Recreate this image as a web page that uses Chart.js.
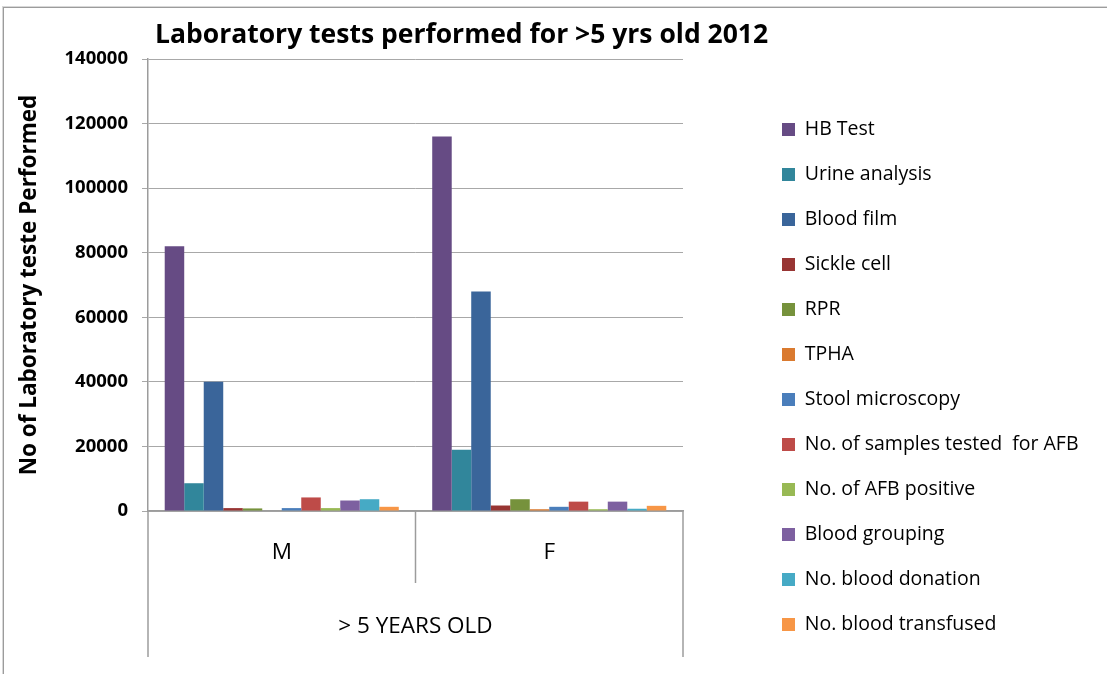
<!DOCTYPE html>
<html>
<head>
<meta charset="utf-8">
<script src="https://cdn.jsdelivr.net/npm/chart.js@4"></script>
<style>
html,body{margin:0;padding:0;background:#fff;overflow:hidden;}
#wrap{position:relative;width:1107px;height:674px;background:#fff;}
#frame{position:absolute;left:3px;top:7px;width:1110px;height:680px;border-left:1px solid #9c9c9c;border-top:1px solid #9c9c9c;box-shadow:-1px -1px 0 #d8d8d8;pointer-events:none;}
canvas{position:absolute;left:0;top:0;}
</style>
</head>
<body>
<div id="wrap"><canvas id="c" width="1107" height="674"></canvas><div id="frame"></div></div>
<script>
// ---- data ----
const categories = ['M', 'F'];
const groupLabel = '> 5 YEARS OLD';
const chartTitle = 'Laboratory tests performed for >5 yrs old 2012';
const yAxisTitle = 'No of Laboratory teste Performed';
const seriesNames = [
  'HB Test', 'Urine analysis', 'Blood film', 'Sickle cell', 'RPR', 'TPHA',
  'Stool microscopy', 'No. of samples tested  for AFB', 'No. of AFB positive',
  'Blood grouping', 'No. blood donation', 'No. blood transfused'
];
const maleValues   = [82000, 8600, 40000, 900, 800, 150, 900, 4200, 900, 3250, 3650, 1300];
const femaleValues = [116000, 19000, 68000, 1700, 3650, 550, 1300, 2900, 550, 2900, 700, 1600];
const yMin = 0, yMax = 140000, yStep = 20000;

// ---- styles ----
const seriesColors = [
  '#664B84', '#31869B', '#3A659A', '#983533', '#76923C', '#DA7A2F',
  '#4A7EBB', '#BE4B48', '#98B954', '#7D60A0', '#46AAC5', '#F79646'
];
const FONT = "'Open Sans', sans-serif";
const legendFontSize = 19.5, legendBox = 13, legendPad = 25.5;
const legendLeft = 756.5, plotRight = 683, plotTop = 59;

// measure widest legend label to place the legend
const mctx = document.createElement('canvas').getContext('2d');
mctx.font = legendFontSize + 'px ' + FONT;
let maxW = 0;
seriesNames.forEach(n => { maxW = Math.max(maxW, mctx.measureText(n).width); });
const legendNatural = 10 + legendPad + legendBox + legendFontSize / 2 + maxW;
const legendMax = 1107 - legendLeft;
const padRight = Math.max(0, legendMax - legendNatural);

// chart title drawn above the plot, starting just right of the value axis
const titlePlugin = {
  id: 'chartTitleText',
  afterDraw(chart) {
    const ctx = chart.ctx;
    ctx.save();
    ctx.font = 'bold 26.5px ' + FONT;
    ctx.fillStyle = '#000';
    ctx.textAlign = 'left';
    ctx.textBaseline = 'middle';
    ctx.fillText(chartTitle, chart.chartArea.left + 7, 35);
    ctx.restore();
  }
};

const dividerPlugin = {
  id: 'dividers',
  afterDraw(chart) {
    const x = chart.scales.x, ctx = chart.ctx, base = chart.chartArea.bottom;
    const n = x.ticks.length;
    ctx.save();
    ctx.strokeStyle = '#9c9c9c';
    ctx.lineWidth = 1.5;
    for (let i = 0; i <= n; i++) {
      let px, end;
      if (i === 0) { px = x.left; end = base + 146; }
      else if (i === n) { px = x.right; end = base + 146; }
      else { px = (x.getPixelForTick(i - 1) + x.getPixelForTick(i)) / 2; end = base + 72; }
      ctx.beginPath();
      ctx.moveTo(px, base);
      ctx.lineTo(px, end);
      ctx.stroke();
    }
    ctx.restore();
  }
};

Chart.defaults.font.family = FONT;
Chart.defaults.color = '#000';

new Chart(document.getElementById('c'), {
  type: 'bar',
  data: {
    labels: categories,
    datasets: seriesNames.map((name, i) => ({
      label: name,
      data: [maleValues[i], femaleValues[i]],
      backgroundColor: seriesColors[i],
      borderWidth: 0
    }))
  },
  options: {
    responsive: false,
    animation: false,
    layout: { padding: { left: 0, right: padRight, top: plotTop, bottom: 0 } },
    datasets: { bar: { categoryPercentage: 0.875, barPercentage: 1.0 } },
    scales: {
      x: {
        position: 'bottom',
        grid: { display: false, drawTicks: false },
        border: { display: true, color: '#9c9c9c', width: 1.5 },
        ticks: { padding: 28.5, font: { size: 22.5 }, color: '#000' },
        title: { display: true, text: groupLabel, font: { size: 22.5 }, color: '#000', padding: { top: 0, bottom: 33.5 } },
        afterFit(s) { s.height = 163; }
      },
      y: {
        position: 'left',
        min: yMin, max: yMax,
        ticks: { stepSize: yStep, padding: 14, font: { size: 18.5, weight: 'bold' }, color: '#000', callback: v => String(v) },
        grid: { color: '#a8a8a8', lineWidth: 1, drawTicks: true, tickLength: 6 },
        border: { display: true, color: '#9c9c9c', width: 1.5 },
        title: { display: true, text: yAxisTitle, font: { size: 22.5, weight: 'bold' }, color: '#000', padding: { top: 16, bottom: 0 } },
        afterFit(s) { s.width = 148; }
      },
      spacer: {
        type: 'linear',
        position: 'right',
        display: true,
        grid: { display: false, drawTicks: false },
        border: { display: false },
        ticks: { display: false },
        afterFit(s) { s.width = legendLeft - plotRight; }
      }
    },
    plugins: {
      title: { display: false },
      legend: {
        display: true,
        position: 'right',
        align: 'start',
        maxWidth: legendMax,
        title: { display: true, text: ' ', font: { size: 10 }, padding: { top: 82.25 - plotTop, bottom: 0 } },
        labels: {
          boxWidth: legendBox, boxHeight: legendBox, padding: legendPad,
          font: { size: legendFontSize }, color: '#000'
        }
      },
      tooltip: { enabled: false }
    }
  },
  plugins: [dividerPlugin, titlePlugin]
});
</script>
</body>
</html>
